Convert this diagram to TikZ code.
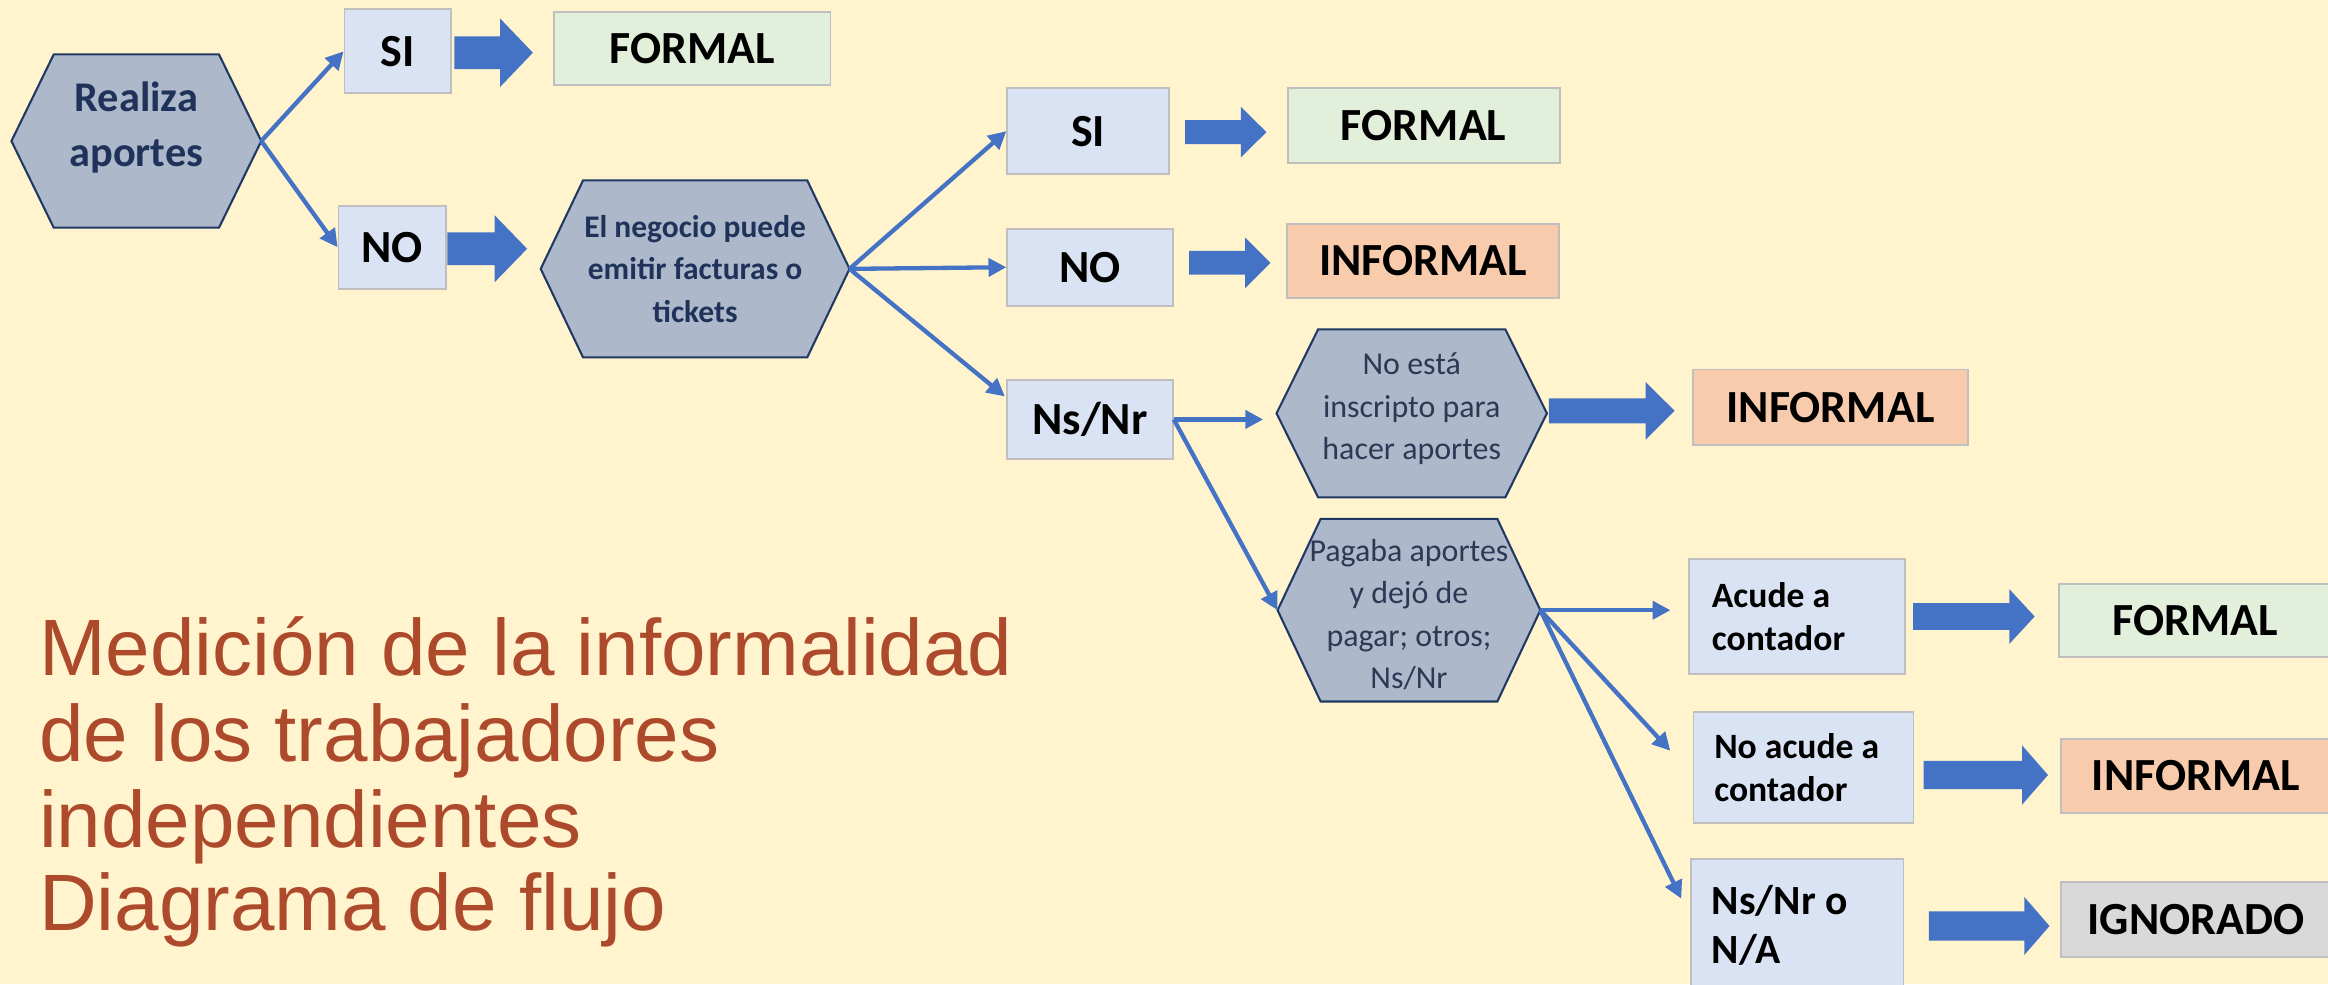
\documentclass[tikz,border=0pt]{standalone}
\usepackage{fontspec}
\setmainfont{Carlito}
\newfontfamily\titlefont{Liberation Sans}
\usetikzlibrary{arrows.meta,calc}
\definecolor{bgc}{RGB}{255,244,206}
\definecolor{hexfill}{RGB}{173,185,202}
\definecolor{hexline}{RGB}{31,56,100}
\definecolor{navy}{RGB}{31,50,90}
\definecolor{hextxt}{RGB}{44,56,84}
\definecolor{boxblue}{RGB}{218,227,243}
\definecolor{boxline}{RGB}{191,191,191}
\definecolor{formalc}{RGB}{226,239,218}
\definecolor{informalc}{RGB}{248,203,173}
\definecolor{ignc}{RGB}{217,217,217}
\definecolor{arrowblue}{RGB}{68,114,196}
\definecolor{titlec}{RGB}{174,74,44}

% name cx cy w h inset
\newcommand\hexnode[6]{%
  \filldraw[hexshape] ({#2-#4/2},#3) -- ({#2-#4/2+#6},{#3-#5/2}) -- ({#2+#4/2-#6},{#3-#5/2}) -- ({#2+#4/2},#3) -- ({#2+#4/2-#6},{#3+#5/2}) -- ({#2-#4/2+#6},{#3+#5/2}) -- cycle;
  \node[minimum width={#4*0.5pt}, minimum height={#5*0.5pt}, inner sep=0pt, outer sep=0pt] (#1) at (#2,#3) {};}
% name x1 y1 x2 y2 style text
\newcommand\boxnode[7]{%
  \node[#6, minimum width={(#4-#2)*0.5pt}, minimum height={(#5-#3)*0.5pt}] (#1) at ({(#2+#4)/2},{(#3+#5)/2}) {#7};}
% from to gapstart gapend yoff shafthalf headhalf headlen  (all in px)
\newcommand\barrow[8]{%
  \fill[arrowblue] let \p1=(#1.east), \p2=(#2.west) in
   ({\x1+(#3)*0.5pt},{\y1-(#5)*0.5pt+(#6)*0.5pt}) --
   ({\x2-(#4)*0.5pt-(#8)*0.5pt},{\y1-(#5)*0.5pt+(#6)*0.5pt}) --
   ({\x2-(#4)*0.5pt-(#8)*0.5pt},{\y1-(#5)*0.5pt+(#7)*0.5pt}) --
   ({\x2-(#4)*0.5pt},{\y1-(#5)*0.5pt}) --
   ({\x2-(#4)*0.5pt-(#8)*0.5pt},{\y1-(#5)*0.5pt-(#7)*0.5pt}) --
   ({\x2-(#4)*0.5pt-(#8)*0.5pt},{\y1-(#5)*0.5pt-(#6)*0.5pt}) --
   ({\x1+(#3)*0.5pt},{\y1-(#5)*0.5pt-(#6)*0.5pt}) -- cycle;}

\tikzset{
  hexshape/.style={fill=hexfill, draw=hexline, line width=0.7pt, line join=miter},
  optbox/.style={draw=boxline, line width=0.6pt, fill=boxblue, inner sep=0pt, text=black,
    font=\fontsize{15.5pt}{18pt}\selectfont\bfseries},
  formbox/.style={optbox, fill=formalc},
  infbox/.style={optbox, fill=informalc},
  ignbox/.style={optbox, fill=ignc},
  leftbox/.style={align=flush left, font=\fontsize{12pt}{14.6pt}\selectfont\bfseries},
  hexbold/.style={text=navy, align=center, inner sep=0pt, font=\fontsize{10.6pt}{14.3pt}\selectfont\bfseries},
  hexreg/.style={text=hextxt, align=center, inner sep=0pt, font=\fontsize{10.75pt}{14.3pt}\selectfont},
  conn/.style={draw=arrowblue, line width=1.45pt, -{Triangle[length=6pt,width=6pt]}},
  titletxt/.style={text=titlec, inner sep=0pt, anchor=base west,
    font=\titlefont\fontsize{26.93pt}{28.65pt}\selectfont}
}

\begin{document}
\begin{tikzpicture}[x=0.5pt,y=-0.5pt]
\useasboundingbox (0,0) rectangle (1568,663);
\fill[bgc] (0,0) rectangle (1568,663);
\clip (0,0) rectangle (1568,663);

% hexagons
\hexnode{hexA}{91.85}{95}{168.3}{116.7}{28.5}
\hexnode{hexB}{468.2}{181.1}{208}{119.2}{28.5}
\hexnode{hexC}{950.85}{278.4}{182.1}{113.2}{28}
\hexnode{hexD}{949}{411}{177}{123}{29}

\node[hexbold, font=\fontsize{14.25pt}{18.5pt}\selectfont\bfseries] (hexAt) at (91.85,86) {Realiza\\aportes};
\node[hexbold] (hexBt) at (468.2,181) {El negocio puede\\emitir facturas o\\tickets};
\node[hexreg] (hexCt) at (950.85,275.5) {No está\\inscripto para\\hacer aportes};
\node[hexreg] (hexDt) at (949,414) {Pagaba aportes\\y dejó de\\pagar; otros;\\Ns/Nr};

% boxes
\boxnode{siA}{232}{6.3}{303.5}{62.9}{optbox}{SI}
\boxnode{noA}{228}{138.5}{300.4}{194.6}{optbox}{NO}
\boxnode{formA}{373}{8.3}{559.4}{57.2}{formbox}{FORMAL}
\boxnode{siB}{678.4}{59.5}{787.3}{117.2}{optbox}{SI}
\boxnode{noB}{678.4}{154}{790}{206}{optbox}{NO}
\boxnode{nsB}{678.4}{256}{790}{309}{optbox}{Ns/Nr}
\boxnode{formB}{867.3}{59.5}{1050.5}{110}{formbox}{FORMAL}
\boxnode{infB}{867}{151}{1050}{200.5}{infbox}{INFORMAL}
\boxnode{infC}{1140.4}{248.8}{1325.3}{299.7}{infbox}{INFORMAL}
\boxnode{acude}{1137.7}{376.5}{1283}{454}{optbox,leftbox,text width=57.35pt}{Acude a\\contador}
\boxnode{noacude}{1140.6}{479.8}{1288.8}{554.5}{optbox,leftbox,text width=60.1pt}{No acude a\\contador}
\boxnode{nsna}{1139}{578.6}{1282}{668}{optbox,leftbox,text width=57.5pt,font=\fontsize{14pt}{16.3pt}\selectfont\bfseries}{Ns/Nr o\\N/A}
\boxnode{formD}{1387}{393.6}{1570}{442.7}{formbox}{FORMAL}
\boxnode{infD}{1388}{498}{1570}{547.4}{infbox}{INFORMAL}
\boxnode{ign}{1388}{594}{1570}{644.7}{ignbox}{IGNORADO}

% block arrows
\barrow{siA}{formA}{1.9}{13.5}{0.9}{11}{23}{22}
\barrow{noA}{hexB}{0.4}{9.2}{1}{11}{22.5}{21.8}
\barrow{siB}{formB}{10.3}{13.7}{0.65}{8.1}{17}{17.2}
\barrow{noB}{infB}{10.3}{10.7}{-3}{8}{17}{17}
\barrow{hexC}{infC}{1.3}{11.9}{-1.7}{8.4}{19.5}{19.6}
\barrow{acude}{formD}{5}{16}{0}{9}{18.4}{17}
\barrow{noacude}{infD}{6.2}{8}{4.85}{9.5}{20}{17.5}
\barrow{nsna}{ign}{16.5}{7}{0.4}{9.9}{19.6}{17}

% connector end points
\coordinate (nsBin) at ($(nsB.west)+(-1,-15.5)$);
\coordinate (hexCin) at ($(nsB.east -| hexC.west)+(-9,0)$);
\coordinate (acIn) at ($(hexD.east -| acude.west)+(-12,0)$);
\coordinate (naIn) at ($(noacude.west)+(-15,-11.5)$);
\coordinate (nsnaIn) at ($(nsna.west)+(-6,-18)$);

% connectors
\draw[conn] (hexA.east) -- (siA.west);
\draw[conn] (hexA.east) -- (noA.west);
\draw[conn] (hexB.east) -- (siB.west);
\draw[conn] (hexB.east) -- (noB.west);
\draw[conn] (hexB.east) -- (nsBin);
\draw[conn] (nsB.east) -- (hexCin);
\draw[conn] (nsB.east) -- (hexD.west);
\draw[conn] (hexD.east) -- (acIn);
\draw[conn] (hexD.east) -- (naIn);
\draw[conn] (hexD.east) -- (nsnaIn);

% title
\node[titletxt] (titleA) at (26,454.7) {Medición de la informalidad};
\node[titletxt] (titleB) at (26,513) {de los trabajadores};
\node[titletxt] (titleC) at (26,570.7) {independientes};
\node[titletxt] (titleD) at (26,626.4) {Diagrama de flujo};
\end{tikzpicture}
\end{document}
